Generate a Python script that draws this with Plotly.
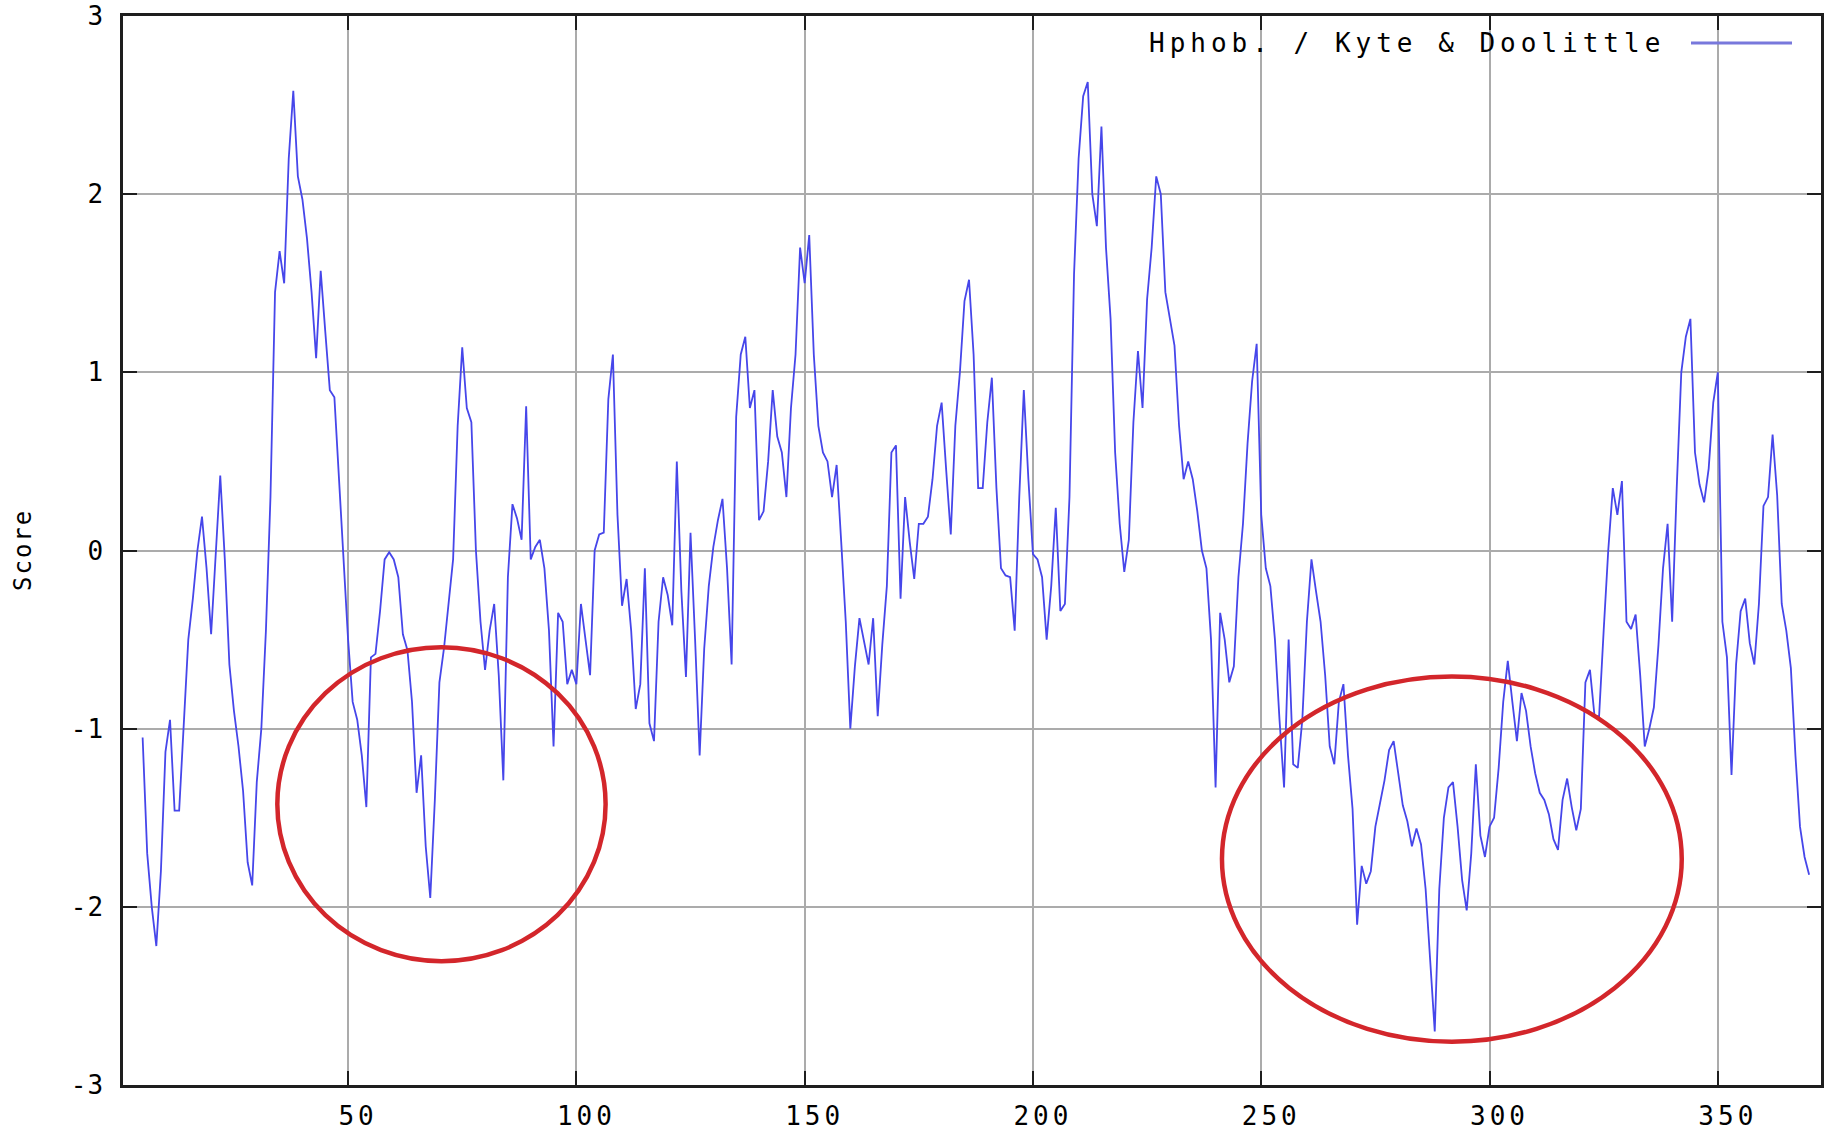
import plotly.graph_objects as go

# ---- data ----
series_name = "Hphob. / Kyte & Doolittle"
first_residue = 5
scores = [
    # 5-14
    -1.05, -1.7, -2.0, -2.22, -1.8, -1.13, -0.95, -1.46, -1.46, -1.0,
    # 15-24
    -0.5, -0.27, 0.0, 0.19, -0.1, -0.47, -0.05, 0.42, -0.05, -0.64,
    # 25-34
    -0.9, -1.1, -1.35, -1.75, -1.88, -1.3, -1.0, -0.45, 0.3, 1.45,
    # 35-44
    1.68, 1.5, 2.2, 2.58, 2.1, 1.97, 1.75, 1.45, 1.08, 1.57,
    # 45-54
    1.23, 0.9, 0.86, 0.4, 0.0, -0.5, -0.85, -0.95, -1.15, -1.44,
    # 55-64
    -0.6, -0.58, -0.34, -0.05, -0.01, -0.05, -0.15, -0.47, -0.56, -0.85,
    # 65-74
    -1.36, -1.15, -1.66, -1.95, -1.4, -0.74, -0.55, -0.31, -0.05, 0.7,
    # 75-84
    1.14, 0.8, 0.72, 0.0, -0.4, -0.67, -0.45, -0.3, -0.7, -1.29,
    # 85-94
    -0.15, 0.26, 0.18, 0.06, 0.81, -0.05, 0.02, 0.06, -0.1, -0.45,
    # 95-104
    -1.1, -0.35, -0.4, -0.75, -0.67, -0.75, -0.3, -0.5, -0.7, 0.0,
    # 105-114
    0.09, 0.1, 0.85, 1.1, 0.2, -0.31, -0.16, -0.45, -0.89, -0.75,
    # 115-124
    -0.1, -0.97, -1.07, -0.4, -0.15, -0.25, -0.42, 0.5, -0.23, -0.71,
    # 125-134
    0.1, -0.5, -1.15, -0.55, -0.2, 0.02, 0.17, 0.29, -0.1, -0.64,
    # 135-144
    0.75, 1.1, 1.2, 0.8, 0.9, 0.17, 0.22, 0.5, 0.9, 0.64,
    # 145-154
    0.55, 0.3, 0.8, 1.1, 1.7, 1.5, 1.77, 1.1, 0.7, 0.55,
    # 155-164
    0.5, 0.3, 0.48, 0.05, -0.4, -1.0, -0.65, -0.38, -0.5, -0.64,
    # 165-174
    -0.38, -0.93, -0.53, -0.2, 0.55, 0.59, -0.27, 0.3, 0.05, -0.16,
    # 175-184
    0.15, 0.15, 0.19, 0.4, 0.7, 0.83, 0.45, 0.09, 0.7, 1.0,
    # 185-194
    1.4, 1.52, 1.1, 0.35, 0.35, 0.72, 0.97, 0.35, -0.1, -0.14,
    # 195-204
    -0.15, -0.45, 0.3, 0.9, 0.4, -0.02, -0.05, -0.15, -0.5, -0.2,
    # 205-214
    0.24, -0.34, -0.3, 0.3, 1.55, 2.2, 2.55, 2.63, 2.0, 1.82,
    # 215-224
    2.38, 1.7, 1.3, 0.55, 0.15, -0.12, 0.06, 0.72, 1.12, 0.8,
    # 225-234
    1.41, 1.7, 2.1, 2.0, 1.45, 1.3, 1.15, 0.7, 0.4, 0.5,
    # 235-244
    0.4, 0.22, 0.0, -0.1, -0.5, -1.33, -0.35, -0.5, -0.74, -0.65,
    # 245-254
    -0.15, 0.15, 0.6, 0.95, 1.16, 0.2, -0.1, -0.2, -0.5, -0.95,
    # 255-264
    -1.33, -0.5, -1.2, -1.22, -0.95, -0.4, -0.05, -0.23, -0.4, -0.7,
    # 265-274
    -1.1, -1.2, -0.85, -0.75, -1.15, -1.45, -2.1, -1.77, -1.87, -1.8,
    # 275-284
    -1.55, -1.42, -1.29, -1.12, -1.07, -1.25, -1.43, -1.52, -1.66, -1.56,
    # 285-294
    -1.65, -1.9, -2.3, -2.7, -1.9, -1.5, -1.33, -1.3, -1.55, -1.85,
    # 295-304
    -2.02, -1.7, -1.2, -1.6, -1.72, -1.55, -1.5, -1.22, -0.85, -0.62,
    # 305-314
    -0.85, -1.07, -0.8, -0.9, -1.1, -1.25, -1.36, -1.4, -1.48, -1.62,
    # 315-324
    -1.68, -1.4, -1.28, -1.44, -1.57, -1.45, -0.74, -0.67, -0.93, -0.93,
    # 325-334
    -0.45, 0.0, 0.35, 0.2, 0.39, -0.4, -0.44, -0.36, -0.7, -1.1,
    # 335-344
    -1.0, -0.88, -0.53, -0.1, 0.15, -0.4, 0.35, 1.0, 1.2, 1.3,
    # 345-354
    0.55, 0.37, 0.27, 0.46, 0.83, 1.0, -0.4, -0.6, -1.26, -0.64,
    # 355-364
    -0.34, -0.27, -0.52, -0.64, -0.3, 0.25, 0.3, 0.65, 0.31, -0.3,
    # 365-370
    -0.45, -0.66, -1.15, -1.55, -1.72, -1.82,
]
positions = list(range(first_residue, first_residue + len(scores)))

x_tick_values = [50, 100, 150, 200, 250, 300, 350]
y_tick_values = [-3, -2, -1, 0, 1, 2, 3]
y_axis_title = "Score"

# highlighted regions (red hand-drawn ellipses): [x0, x1, y0, y1] in data units
highlight_regions = [
    [34.5, 106.4, -2.305, -0.543],
    [241.4, 342.1, -2.757, -0.707],
]

# ---- styling ----
FONT = "DejaVu Sans Mono"
LINE_COLOR = "#4646ea"
GRID = "#ababab"
AXIS = "#1e1e1e"


def spaced(txt, sp):
    return f'<span style="letter-spacing:{sp}px">{txt}</span>'


fig = go.Figure()
fig.add_trace(go.Scatter(
    x=positions, y=scores, mode="lines", name=series_name,
    line=dict(color=LINE_COLOR, width=1.8), showlegend=False,
))

W, H = 1831, 1131
ml, mr, mt, mb = 123, 10, 16, 46
pw = W - ml - mr
ph = H - mt - mb


def px_to_paper_x(px):
    return (px - ml) / pw


def px_to_paper_y(py):
    return 1 - (py - mt) / ph


shapes = []
for x0, x1, y0, y1 in highlight_regions:
    shapes.append(dict(type="circle", xref="x", yref="y", x0=x0, x1=x1, y0=y0, y1=y1,
                       line=dict(color="#d3262b", width=4.5), layer="above"))

# legend key sample (drawn to the right of the label, as in the reference)
ly = px_to_paper_y(43)
shapes.append(dict(type="line", xref="paper", yref="paper",
                   x0=px_to_paper_x(1691), x1=px_to_paper_x(1792), y0=ly, y1=ly,
                   line=dict(color="#7878dc", width=3)))

annotations = [
    dict(text=spaced(series_name.replace("&", "&amp;"), 5), xref="paper", yref="paper",
         x=px_to_paper_x(1667), y=ly, xanchor="right", yanchor="middle", showarrow=False,
         font=dict(family=FONT, size=26, color="#000")),
    dict(text=spaced(y_axis_title, 2), xref="paper", yref="paper",
         x=px_to_paper_x(23), y=px_to_paper_y(550), xanchor="center", yanchor="middle",
         textangle=-90, showarrow=False, font=dict(family=FONT, size=24, color="#000")),
]

fig.update_layout(
    width=W, height=H,
    margin=dict(l=ml, r=mr, t=mt, b=mb, pad=0, autoexpand=False),
    paper_bgcolor="white", plot_bgcolor="white",
    shapes=shapes, annotations=annotations,
    showlegend=False,
    xaxis=dict(
        range=[0.7, 372.6], tickvals=x_tick_values,
        ticktext=[spaced(str(v), 4) for v in x_tick_values],
        showgrid=True, gridcolor=GRID, gridwidth=2, zeroline=False,
        showline=True, linecolor=AXIS, linewidth=2.5, mirror="ticks",
        ticks="inside", ticklen=14, tickwidth=2, tickcolor=AXIS,
        tickfont=dict(family=FONT, size=26, color="#000"),
        ticklabelstandoff=6, ticklabelshift=10, automargin=False,
    ),
    yaxis=dict(
        range=[-3, 3], tickvals=y_tick_values,
        ticktext=[spaced(str(v), 1) for v in y_tick_values],
        showgrid=True, gridcolor=GRID, gridwidth=1.5, zeroline=False,
        showline=True, linecolor=AXIS, linewidth=2.5, mirror="ticks",
        ticks="inside", ticklen=14, tickwidth=2, tickcolor=AXIS,
        tickfont=dict(family=FONT, size=26, color="#000"),
        ticklabelstandoff=11, automargin=False,
    ),
)

fig.write_html("out.html")
